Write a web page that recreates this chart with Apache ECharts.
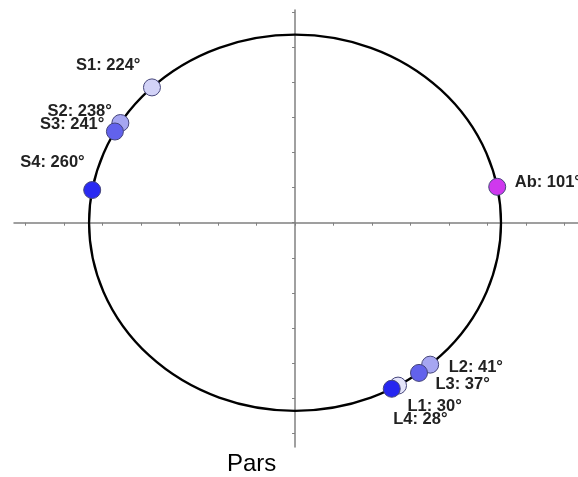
<!DOCTYPE html>
<html>
<head>
<meta charset="utf-8">
<script src="https://cdn.jsdelivr.net/npm/echarts@6/dist/echarts.min.js"></script>
<style>html,body{margin:0;padding:0;background:#fff}#c{width:578px;height:477px}</style>
</head>
<body>
<div id="c"></div>
<script>
// ---- data ----
const pointNames = ['S1', 'S2', 'S3', 'S4', 'Ab', 'L1', 'L2', 'L3', 'L4'];
const pointAngles = [224, 238, 241, 260, 101, 30, 41, 37, 28];
const circleRadius = 5.35;
const xTicks = [-7, -6, -5, -4, -3, -2, -1, 0, 1, 2, 3, 4, 5, 6, 7];
const yTicks = [-6, -5, -4, -3, -2, -1, 0, 1, 2, 3, 4, 5, 6];
const chartTitle = 'Pars';

// ---- styles ----
const pointColors = ['#d2d2f7', '#a6a6f1', '#6262ec', '#2a2af2', '#cf38ee', '#e4e4fa', '#a6a6f1', '#6262ec', '#2626f0'];
const labelAlign = ['right', 'right', 'right', 'right', 'left', 'left', 'left', 'left', 'left'];
const labelOffsets = [[-11, -21], [-8, -11], [-10, -7], [-7, -27], [18, -4], [10, 21], [19, 3], [17, 12], [2, 31]];
const symbolSize = 17;

const axisColor = '#808080';
const chart = echarts.init(document.getElementById('c'), null, {renderer: 'canvas'});

const scatterData = pointNames.map((n, i) => {
  const a = pointAngles[i] * Math.PI / 180;
  return {
    name: n,
    value: [circleRadius * Math.sin(a), -circleRadius * Math.cos(a)],
    itemStyle: {color: pointColors[i]},
    label: {
      position: [symbolSize / 2 + labelOffsets[i][0], symbolSize / 2 + labelOffsets[i][1]],
      align: labelAlign[i], verticalAlign: 'middle'
    }
  };
});

const option = {
  animation: false,
  title: {
    text: chartTitle, left: 227, top: 452, padding: 0,
    textStyle: {fontFamily: 'Liberation Sans', fontSize: 24, fontWeight: 'normal', color: '#000'}
  },
  grid: {left: 14, right: 0, top: 10, bottom: 30, containLabel: false},
  xAxis: {
    type: 'value', min: -7.3, max: 7.35,
    axisLine: {onZero: true, lineStyle: {color: axisColor, width: 1.5}},
    axisTick: {show: true, length: 3, customValues: xTicks, lineStyle: {color: axisColor, width: 1}},
    axisLabel: {show: false}, splitLine: {show: false}
  },
  yAxis: {
    type: 'value', min: -6.38, max: 6.05,
    axisLine: {onZero: true, lineStyle: {color: axisColor, width: 1.5}},
    axisTick: {show: true, length: 3, customValues: yTicks, lineStyle: {color: axisColor, width: 1}},
    axisLabel: {show: false}, splitLine: {show: false}
  },
  series: [
    {
      type: 'custom', silent: true, clip: false, z: 2,
      data: [[0, 0]],
      renderItem: function (params, api) {
        const c = api.coord([api.value(0), api.value(1)]);
        const s = api.size([circleRadius, circleRadius]);
        return {
          type: 'path',
          shape: {
            pathData: 'M -1 0 A 1 1 0 1 0 1 0 A 1 1 0 1 0 -1 0 Z',
            x: c[0] - s[0], y: c[1] - s[1], width: 2 * s[0], height: 2 * s[1], layout: 'cover'
          },
          style: {fill: 'none', stroke: '#000', lineWidth: 2.3}
        };
      }
    },
    {
      type: 'scatter', z: 3,
      symbol: 'circle', symbolSize: symbolSize,
      itemStyle: {borderColor: '#45457a', borderWidth: 1, opacity: 1},
      label: {
        show: true,
        formatter: p => p.name + ': ' + pointAngles[p.dataIndex] + '°',
        fontFamily: 'Liberation Sans', fontWeight: 'bold', fontSize: 16.5, color: '#222'
      },
      data: scatterData
    }
  ]
};
chart.setOption(option);
</script>
</body>
</html>
